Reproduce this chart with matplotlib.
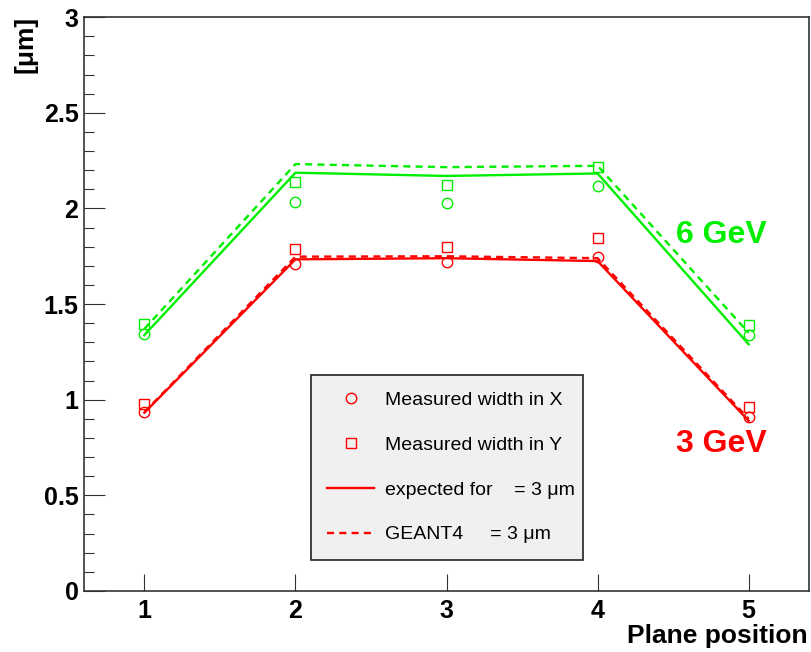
import numpy as np
import matplotlib
matplotlib.use("Agg")
from matplotlib import pyplot as plt
from matplotlib.lines import Line2D
from matplotlib.ticker import MultipleLocator

plt.rcParams['font.family'] = ['Liberation Sans', 'DejaVu Sans']

planes = [1, 2, 3, 4, 5]

# 6 GeV
exp_6 = [1.338, 2.187, 2.170, 2.183, 1.290]
g4_6 = [1.370, 2.232, 2.216, 2.223, 1.350]
meas_x_6 = [1.342, 2.035, 2.027, 2.120, 1.338]
meas_y_6 = [1.396, 2.136, 2.122, 2.218, 1.390]

# 3 GeV
exp_3 = [0.932, 1.734, 1.740, 1.725, 0.890]
g4_3 = [0.935, 1.748, 1.750, 1.740, 0.900]
meas_x_3 = [0.937, 1.708, 1.720, 1.748, 0.911]
meas_y_3 = [0.977, 1.788, 1.800, 1.847, 0.963]

green = '#00ee00'
red = '#ff0000'

fig = plt.figure(figsize=(8.12, 6.52), dpi=100)
ax = fig.add_axes([0.1034, 0.0936, 0.893, 0.880])

for col, ex, g4, mx, my in [(green, exp_6, g4_6, meas_x_6, meas_y_6),
                            (red, exp_3, g4_3, meas_x_3, meas_y_3)]:
    ax.plot(planes, ex, '-', color=col, lw=1.7)
    ax.plot(planes, g4, '--', color=col, lw=1.7, dashes=(3, 2.2))
    ax.plot(planes, mx, 'o', mfc='none', mec=col, ms=7.5, mew=1.0)
    ax.plot(planes, my, 's', mfc='none', mec=col, ms=7.5, mew=1.0)

ax.text(4.818, 1.861, '6 GeV', color=green, fontsize=23, fontweight='bold', ha='center', va='center')
ax.text(4.818, 0.768, '3 GeV', color=red, fontsize=23, fontweight='bold', ha='center', va='center')

ax.set_xlim(0.6, 5.4)
ax.set_ylim(0, 3)
ax.set_xticks(planes)
ax.yaxis.set_major_locator(MultipleLocator(0.5))
ax.yaxis.set_minor_locator(MultipleLocator(0.1))
ax.set_yticks([0, 0.5, 1, 1.5, 2, 2.5, 3])
ax.set_yticklabels(['0', '0.5', '1', '1.5', '2', '2.5', '3'])
ax.tick_params(axis='both', which='both', direction='in', top=False, right=False,
               labelsize=18, color='#333333', width=0.8)
ax.tick_params(axis='y', which='major', length=15, pad=4)
ax.tick_params(axis='y', which='minor', length=7.5)
ax.tick_params(axis='x', which='major', length=12, pad=6)
for lab in ax.get_xticklabels() + ax.get_yticklabels():
    lab.set_fontweight('bold')
for sp in ax.spines.values():
    sp.set_linewidth(1.2)
    sp.set_color('#333333')

fig.text(0.995, 0.024, 'Plane position', fontsize=19, fontweight='bold', ha='right', va='center')
fig.text(0.031, 0.9325, '[\u03bcm]', fontsize=19, fontweight='bold', rotation=90, ha='center', va='center')

handles = [
    Line2D([], [], ls='none', marker='o', mfc='none', mec=red, ms=7.5, mew=1.0),
    Line2D([], [], ls='none', marker='s', mfc='none', mec=red, ms=7.5, mew=1.0),
    Line2D([], [], ls='-', color=red, lw=1.7),
    Line2D([], [], ls='--', color=red, lw=1.7, dashes=(3, 2.2)),
]
labels = ['Measured width in X', 'Measured width in Y',
          'expected for    = 3 \u03bcm', 'GEANT4     = 3 \u03bcm']
leg = ax.legend(handles, labels, loc='upper left', bbox_to_anchor=(0.313, 0.0627, 0.375, 0.314),
                mode='expand', fontsize=14, frameon=True, fancybox=False, handlelength=2.4,
                labelspacing=1.4, borderpad=0.85, handletextpad=0.57, borderaxespad=0)
leg.get_frame().set_facecolor('#f0f0f0')
leg.get_frame().set_edgecolor('#222222')
leg.get_frame().set_linewidth(1.2)
leg.get_frame().set_alpha(1)

fig.savefig('out.png', dpi=100)
